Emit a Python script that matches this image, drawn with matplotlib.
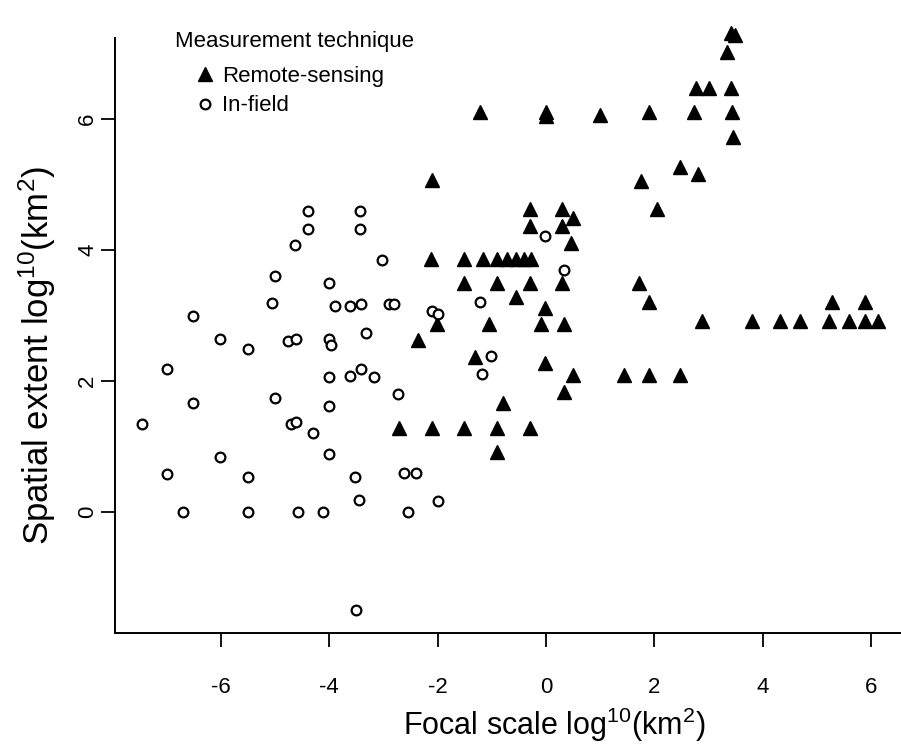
import matplotlib
matplotlib.use("Agg")
import matplotlib.pyplot as plt

plt.rcParams['font.family'] = ['Liberation Sans', 'DejaVu Sans']
plt.rcParams['mathtext.default'] = 'regular'

# remote-sensing studies: focal scale vs spatial extent (log10 km2)
rs_focal = [3.41, 3.48, 3.34,
            2.77, 3.01, 3.41,
            -1.22, 0.0, 0.0, 1.0, 1.90, 2.73, 3.44,
            3.46, 2.48, 2.80, 1.76, -2.10,
            2.05, -0.30, 0.29, 0.50, -0.30, 0.29, 0.47,
            -2.12, -1.51, -1.16, -0.91, -0.72, -0.55, -0.40, -0.28,
            -1.51, -0.91, -0.30, 0.29, 1.72,
            -0.55, -0.01, 1.90, 5.28, 5.89,
            2.88, 3.80, 4.32, 4.69, 5.22, 5.59, 5.88, 6.13,
            -2.01, -1.05, -0.09, 0.33,
            -2.37, -1.32, -0.01,
            0.50, 1.44, 1.90, 2.48,
            0.33, -0.79,
            -2.71, -2.10, -1.51, -0.90, -0.30,
            -0.90]
rs_extent = [7.31, 7.28, 7.02,
             6.47, 6.47, 6.47,
             6.10, 6.10, 6.05, 6.06, 6.10, 6.10, 6.10,
             5.72, 5.27, 5.16, 5.06, 5.07,
             4.63, 4.63, 4.63, 4.49, 4.36, 4.36, 4.11,
             3.87, 3.87, 3.87, 3.87, 3.87, 3.87, 3.87, 3.87,
             3.50, 3.50, 3.50, 3.50, 3.49,
             3.29, 3.12, 3.20, 3.20, 3.20,
             2.91, 2.91, 2.91, 2.91, 2.91, 2.91, 2.91, 2.91,
             2.87, 2.87, 2.87, 2.87,
             2.62, 2.36, 2.28,
             2.09, 2.09, 2.09, 2.09,
             1.84, 1.66,
             1.29, 1.29, 1.29, 1.29, 1.29,
             0.92]

# in-field studies
if_focal = [-7.45, -7.0, -7.0, -6.52, -6.52, -6.71, -6.01, -6.01, -5.51, -5.51,
            -5.51, -5.05, -5.0, -5.0, -4.76, -4.62, -4.71, -4.62, -4.31, -4.57,
            -4.11, -4.01, -3.90, -4.01, -3.96, -4.01, -4.01, -4.01, -3.61, -3.42,
            -3.61, -3.42, -3.52, -3.45, -3.32, -3.51, -2.55, -1.99, -3.02, -2.90,
            -2.81, -2.11, -2.0, -1.22, -3.18, -2.73, -1.02, -1.19, -2.62, -2.40,
            -0.02, 0.33, -4.39, -4.40, -3.43, -3.43, -4.63]
if_extent = [1.34, 2.18, 0.58, 2.99, 1.66, 0.0, 2.64, 0.84, 2.49, 0.54,
             0.0, 3.19, 3.60, 1.74, 2.61, 2.64, 1.34, 1.37, 1.20, 0.0,
             0.0, 3.49, 3.15, 2.64, 2.55, 2.06, 1.62, 0.89, 3.15, 3.17,
             2.08, 2.19, 0.54, 0.18, 2.73, -1.49, 0.0, 0.17, 3.85, 3.17,
             3.17, 3.07, 3.03, 3.21, 2.06, 1.80, 2.38, 2.10, 0.59, 0.59,
             4.22, 3.69, 4.60, 4.32, 4.60, 4.32, 4.08]

x_ticks = [-6, -4, -2, 0, 2, 4, 6]
y_ticks = [0, 2, 4, 6]

fig = plt.figure(figsize=(9.01, 7.44), dpi=100)
ax = fig.add_axes([0.1276, 0.1492, 0.8724, 0.7997])

rs_line, = ax.plot(rs_focal, rs_extent, linestyle='none', marker='^',
                   markersize=9.5, color='black', clip_on=False)
if_line, = ax.plot(if_focal, if_extent, linestyle='none', marker='o',
                   markersize=7, markerfacecolor='white', markeredgecolor='black',
                   markeredgewidth=1.6, clip_on=False)

ax.set_xlim(-7.957, 6.553)
ax.set_ylim(-1.847, 7.237)
ax.set_xticks(x_ticks)
ax.set_yticks(y_ticks)
ax.set_xticklabels([str(t) for t in x_ticks])
ax.set_yticklabels([str(t) for t in y_ticks], rotation=90, va='center')

for side in ['top', 'right']:
    ax.spines[side].set_visible(False)
for side in ['left', 'bottom']:
    ax.spines[side].set_linewidth(1.4)

ax.tick_params(axis='x', length=10, width=1.3, pad=22, labelsize=16)
ax.tick_params(axis='y', length=10, width=1.3, pad=2, labelsize=16)

ax.set_xlabel('Focal scale log$^{10}$(km$^{2}$)', fontsize=22)
ax.set_ylabel('Spatial extent log$^{10}$(km$^{2}$)', fontsize=25)
ax.xaxis.set_label_coords((554 - 115) / 786, -(706 - 633) / 595)
ax.yaxis.set_label_coords(-(115 - 58) / 786, (633 - 355) / 595)

fig.text(175 / 901, 1 - 42 / 744, 'Measurement technique', fontsize=16,
         ha='left', va='center')
ax.legend([rs_line, if_line], ['Remote-sensing', 'In-field'],
          loc='upper left', bbox_to_anchor=(175 / 901, 1 - 66 / 744),
          bbox_transform=fig.transFigure, frameon=False, fontsize=16,
          handlelength=2.7, handletextpad=-0.6, borderpad=0,
          borderaxespad=0, labelspacing=0.38)

fig.savefig('out.png', dpi=100, facecolor='white')
